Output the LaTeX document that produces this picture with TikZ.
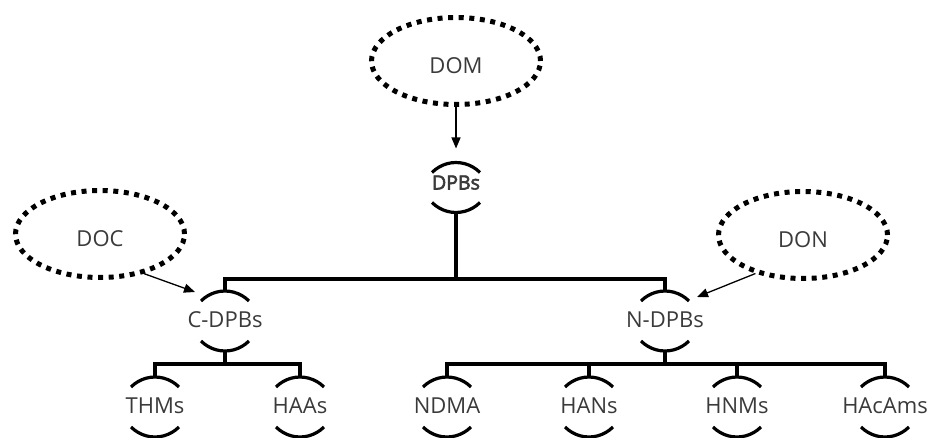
\documentclass[tikz,border=0pt]{standalone}
\usepackage{fontspec}
\setmainfont{Open Sans}
\newfontfamily\semibf[FakeBold=3]{Open Sans}
\usetikzlibrary{shapes.geometric,arrows.meta,calc}
\definecolor{txt}{HTML}{3A3A3A}
\tikzset{
  dotell/.style={ellipse, draw=black, line width=5pt, dash pattern=on 5pt off 5.6pt,
    minimum width=169pt, minimum height=87pt, inner sep=0pt,
    font=\fontsize{22}{22}\selectfont, text=txt, text height=25pt, text depth=0pt},
  lbl/.style={font=\fontsize{22}{22}\selectfont, text=txt, inner sep=0pt, anchor=base},
  lblb/.style={font=\semibf\fontsize{19.5}{19.5}\selectfont, text=txt, inner sep=0pt, anchor=base},
  capline/.style={line width=3.2pt},
  bar/.style={line width=3.5pt, line join=miter},
  link/.style={line width=1.3pt, -{Triangle[length=11pt,width=9pt]}},
}
% name, x, arc-centre y (px from top), half gap, baseline offset, style, text
\newcommand\arcnode[7]{%
  \coordinate (#1c) at (#2,{437-#3});
  \coordinate (#1t) at (#2,{437-#3+#4});
  \coordinate (#1b) at (#2,{437-#3-#4});
  \node[#6] (#1) at (#2,{437-#3-#5}) {#7};
  \draw[capline] ($(#1t)+(-24,-10)$) arc[start angle=135.2,end angle=44.8,radius=33.8];
  \draw[capline] ($(#1b)+(-24,10)$) arc[start angle=224.8,end angle=315.2,radius=33.8];
}
\begin{document}
\begin{tikzpicture}[x=1pt,y=1pt]
\useasboundingbox (0,0) rectangle (928,437);

% ellipses
\node[dotell] (dom) at (456,{437-61}) {DOM};
\node[dotell] (doc) at (100,{437-234}) {DOC};
\node[dotell] (don) at (803,{437-235}) {DON};

% arc nodes
\arcnode{dpbs}{456}{187.5}{25}{2}{lblb}{DPBs}
\arcnode{cdpbs}{225}{321}{30}{6}{lbl}{C-DPBs}
\arcnode{ndpbs}{665}{321}{30}{6}{lbl}{N-DPBs}
\arcnode{thms}{155}{407}{30}{6}{lbl}{THMs}
\arcnode{haas}{300}{407}{30}{6}{lbl}{HAAs}
\arcnode{ndma}{447}{407}{30}{6}{lbl}{NDMA}
\arcnode{hans}{589}{407}{30}{6}{lbl}{HANs}
\arcnode{hnms}{737}{407}{30}{6}{lbl}{HNMs}
\arcnode{hacams}{885}{407}{30}{6}{lbl}{HAcAms}

% bar levels
\coordinate (mbar) at (0,{437-279});
\coordinate (lbar) at (0,{437-364});

% tree connectors
\draw[bar] (dpbsb) -- (dpbsb |- mbar);
\draw[bar] (cdpbst) -- (cdpbst |- mbar) -- (ndpbst |- mbar) -- (ndpbst);
\draw[bar] (cdpbsb) -- (cdpbsb |- lbar);
\draw[bar] (thmst) -- (thmst |- lbar) -- (haast |- lbar) -- (haast);
\draw[bar] (ndpbsb) -- (ndpbsb |- lbar);
\draw[bar] (ndmat) -- (ndmat |- lbar) -- (hacamst |- lbar) -- (hacamst);
\draw[bar] (hanst) -- (hanst |- lbar);
\draw[bar] (hnmst) -- (hnmst |- lbar);

% arrows
\coordinate (domtip) at ($(dpbst)+(0,14)$);
\coordinate (doctip) at ($(cdpbst)+(-30,-1)$);
\coordinate (dontip) at ($(ndpbst)+(32,-6)$);
\draw[link] (dom.south) -- (domtip);
\draw[link] (doc.-42) -- (doctip);
\draw[link] (don.-141) -- (dontip);
\end{tikzpicture}
\end{document}
